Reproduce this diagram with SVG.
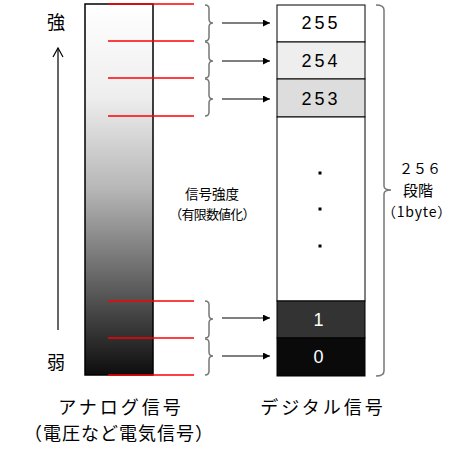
<svg xmlns="http://www.w3.org/2000/svg" width="470" height="455" viewBox="0 0 470 455">
<style>
.jp{font-family:"Noto Sans CJK JP","Noto Sans",sans-serif;fill:#000}
.num{font-family:"Liberation Sans",sans-serif;font-size:18px;text-anchor:middle;dominant-baseline:central;letter-spacing:3px}
.red{stroke:#ff0000;stroke-width:1.5;fill:none}
.brace{stroke:#777;stroke-width:1.5;fill:none}
.arr{stroke:#000;stroke-width:1.2;fill:none;marker-end:url(#ah)}
.box{stroke:#000;stroke-width:1}
</style>
<defs>
<linearGradient id="g" x1="0" y1="0" x2="0" y2="1">
<stop offset="0" stop-color="#ffffff"/>
<stop offset="0.25" stop-color="#eeeeee"/>
<stop offset="0.5" stop-color="#b6b6b6"/>
<stop offset="0.75" stop-color="#626262"/>
<stop offset="1" stop-color="#0d0d0d"/>
</linearGradient>
<marker id="ah" viewBox="0 0 10 10" refX="10" refY="5" markerWidth="8" markerHeight="7" markerUnits="userSpaceOnUse" orient="auto">
<path d="M0,0 L10,5 L0,10 Z" fill="#000"/>
</marker>
</defs>
<rect width="470" height="455" fill="#fff"/>

<g id="analog">
<rect x="85" y="4" width="68" height="371" fill="url(#g)" stroke="#000" stroke-width="1.5"/>
</g>

<g id="levels">
<line class="red" x1="108" y1="4" x2="194" y2="4"/>
<line class="red" x1="108" y1="41" x2="194" y2="41"/>
<line class="red" x1="108" y1="78" x2="194" y2="78"/>
<line class="red" x1="108" y1="116" x2="194" y2="116"/>
<line class="red" x1="108" y1="301" x2="194" y2="301"/>
<line class="red" x1="108" y1="338" x2="194" y2="338"/>
<line class="red" x1="108" y1="375" x2="194" y2="375"/>
</g>

<g id="axis">
<line x1="58" y1="330" x2="58" y2="48" stroke="#000" stroke-width="1.2"/>
<path d="M53,57 L58,48 L63,57" stroke="#000" stroke-width="1.2" fill="none"/>
<text class="jp" x="56" y="21" font-size="18" text-anchor="middle" dominant-baseline="central">強</text>
<text class="jp" x="56" y="361" font-size="18" text-anchor="middle" dominant-baseline="central">弱</text>
</g>

<g id="braces">
<path class="brace" d="M205,5 Q209,5 209,9 V19 Q209,23 213,23 Q209,23 209,27 V37 Q209,41 205,41"/>
<path class="brace" d="M205,42 Q209,42 209,46 V57 Q209,61 213,61 Q209,61 209,65 V74 Q209,78 205,78"/>
<path class="brace" d="M205,79 Q209,79 209,83 V95 Q209,99 213,99 Q209,99 209,103 V112 Q209,116 205,116"/>
<path class="brace" d="M205,301 Q209,301 209,305 V315 Q209,319 213,319 Q209,319 209,323 V334 Q209,338 205,338"/>
<path class="brace" d="M205,339 Q209,339 209,343 V352 Q209,356 213,356 Q209,356 209,360 V371 Q209,375 205,375"/>
</g>

<g id="connectors">
<line class="arr" x1="222" y1="23" x2="270" y2="23"/>
<line class="arr" x1="222" y1="61" x2="270" y2="61"/>
<line class="arr" x1="222" y1="99" x2="270" y2="99"/>
<line class="arr" x1="222" y1="318" x2="270" y2="318"/>
<line class="arr" x1="222" y1="356" x2="270" y2="356"/>
</g>

<g id="digital">
<rect class="box" x="277" y="5" width="88" height="37" fill="#ffffff"/>
<rect class="box" x="277" y="42" width="88" height="37" fill="#eeeeee"/>
<rect class="box" x="277" y="79" width="88" height="38" fill="#dddddd"/>
<rect class="box" x="277" y="117" width="88" height="184" fill="#ffffff"/>
<rect class="box" x="277" y="301" width="88" height="37" fill="#333333"/>
<rect class="box" x="277" y="338" width="88" height="38" fill="#0a0a0a"/>
<text class="num" x="321" y="23">255</text>
<text class="num" x="321" y="61">254</text>
<text class="num" x="321" y="99">253</text>
<text class="num" x="320" y="320" fill="#fff" letter-spacing="0">1</text>
<text class="num" x="320" y="357" fill="#fff" letter-spacing="0">0</text>
<rect x="318.5" y="171.5" width="3" height="3" fill="#000"/>
<rect x="318.5" y="207.5" width="3" height="3" fill="#000"/>
<rect x="318.5" y="244.5" width="3" height="3" fill="#000"/>
</g>

<g id="label-strength">
<text class="jp" x="212" y="193" font-size="13.5" text-anchor="middle" dominant-baseline="central">信号強度</text>
<text class="jp" x="212" y="213" font-size="13" text-anchor="middle" dominant-baseline="central" letter-spacing="-0.8">（有限数値化）</text>
</g>

<g id="bracket256">
<path class="brace" d="M376,5 Q384,5 384,10 V186 Q384,190 391,190 Q384,190 384,194 V371 Q384,376 376,376"/>
<text class="jp" x="420" y="168" font-size="14" text-anchor="middle" dominant-baseline="central">２５６</text>
<text class="jp" x="418" y="189" font-size="15" text-anchor="middle" dominant-baseline="central">段階</text>
<text class="jp" x="417" y="211" font-size="14" text-anchor="middle" dominant-baseline="central" letter-spacing="0.8">（1byte）</text>
</g>

<g id="captions">
<text class="jp" x="121" y="406" font-size="18" text-anchor="middle" dominant-baseline="central" letter-spacing="3">アナログ信号</text>
<text class="jp" x="119" y="432" font-size="18" text-anchor="middle" dominant-baseline="central" letter-spacing="1">（電圧など電気信号）</text>
<text class="jp" x="323" y="406" font-size="18" text-anchor="middle" dominant-baseline="central" letter-spacing="3">デジタル信号</text>
</g>
</svg>
